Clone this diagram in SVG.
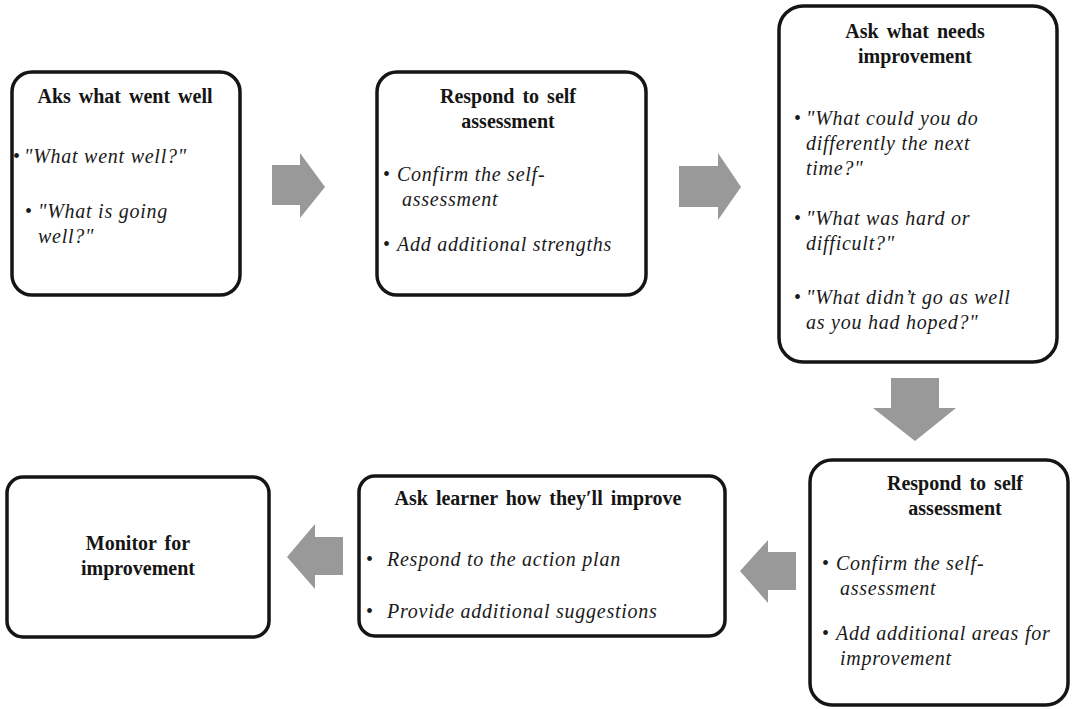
<svg xmlns="http://www.w3.org/2000/svg" width="1073" height="709" viewBox="0 0 1073 709">
<style>
.box{fill:#fff;stroke:#151515;stroke-width:3.5}
text{font-family:'Liberation Serif','DejaVu Serif','Times New Roman',Times,serif}
.t{font-size:20px;font-weight:bold;fill:#151515;text-anchor:middle;word-spacing:3px}
.b{font-size:20px;font-style:italic;fill:#1a1a1a;letter-spacing:0.75px}
.d{font-size:20px;fill:#1a1a1a}
.arr{fill:#999}
</style>
<rect width="1073" height="709" fill="#fff"/>
<g id="connectors">
<polygon class="arr" points="272,165 300,165 300,153 325,187 300,218 300,205 272,205"/>
<polygon class="arr" points="679,166 718,166 718,153 741,187 718,220 718,207 679,207"/>
<polygon class="arr" points="891,378 939,378 939,408 956,408 915,441 873,408 891,408"/>
<polygon class="arr" points="796,552 768,552 768,540 740,571 768,603 768,590 796,590"/>
<polygon class="arr" points="343,537 315,537 315,524 287,557 315,589 315,575 343,575"/>
</g>
<g id="node1">
<rect class="box" x="12" y="72" width="228" height="223" rx="20"/>
<text class="t" x="125" y="103">Aks what went well</text>
<text class="d" x="13" y="163">•</text>
<text class="b" x="24" y="163">"What went well?"</text>
<text class="d" x="25" y="218">•</text>
<text class="b" x="38" y="218">"What is going</text>
<text class="b" x="38" y="243">well?"</text>
</g>
<g id="node2">
<rect class="box" x="377" y="72" width="269" height="223" rx="20"/>
<text class="t" x="508" y="103">Respond to self</text>
<text class="t" x="508" y="128">assessment</text>
<text class="d" x="383" y="181">•</text>
<text class="b" x="397" y="181">Confirm the self-</text>
<text class="b" x="402" y="206">assessment</text>
<text class="d" x="383" y="251">•</text>
<text class="b" x="397" y="251">Add additional strengths</text>
</g>
<g id="node3">
<rect class="box" x="779" y="6" width="278" height="356" rx="24"/>
<text class="t" x="915" y="38">Ask what needs</text>
<text class="t" x="915" y="63">improvement</text>
<text class="d" x="794" y="125">•</text>
<text class="b" x="806" y="125">"What could you do</text>
<text class="b" x="806" y="150">differently the next</text>
<text class="b" x="806" y="175">time?"</text>
<text class="d" x="794" y="225">•</text>
<text class="b" x="806" y="225">"What was hard or</text>
<text class="b" x="806" y="250">difficult?"</text>
<text class="d" x="794" y="304">•</text>
<text class="b" x="806" y="304">"What didn’t go as well</text>
<text class="b" x="806" y="329">as you had hoped?"</text>
</g>
<g id="node4">
<rect class="box" x="810" y="460" width="258" height="245" rx="22"/>
<text class="t" x="955" y="490">Respond to self</text>
<text class="t" x="955" y="515">assessment</text>
<text class="d" x="822" y="570">•</text>
<text class="b" x="836" y="570">Confirm the self-</text>
<text class="b" x="840" y="595">assessment</text>
<text class="d" x="822" y="640">•</text>
<text class="b" x="836" y="640">Add additional areas for</text>
<text class="b" x="840" y="665">improvement</text>
</g>
<g id="node5">
<rect class="box" x="359" y="476" width="366" height="160" rx="16"/>
<text class="t" x="538" y="505">Ask learner how they′ll improve</text>
<text class="d" x="366" y="566">•</text>
<text class="b" x="387" y="566">Respond to the action plan</text>
<text class="d" x="366" y="618">•</text>
<text class="b" x="387" y="618">Provide additional suggestions</text>
</g>
<g id="node6">
<rect class="box" x="7" y="477" width="262" height="160" rx="16"/>
<text class="t" x="138" y="550">Monitor for</text>
<text class="t" x="138" y="575">improvement</text>
</g>
</svg>
